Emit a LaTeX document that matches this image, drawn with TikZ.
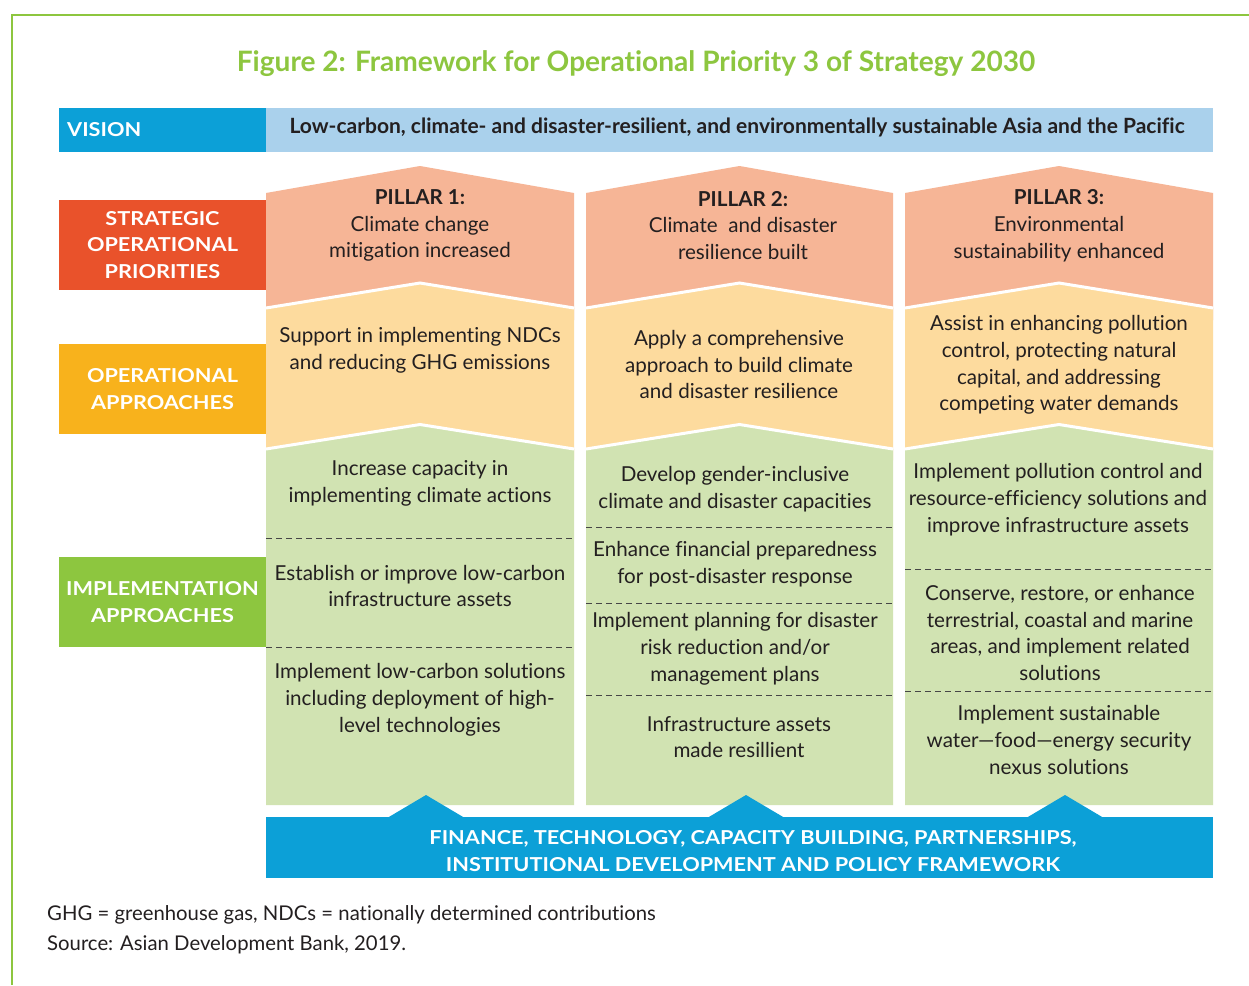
\documentclass[tikz,border=0pt]{standalone}
\usepackage{fontspec}
\setmainfont{Lato}[Ligatures=NoCommon]
\newfontfamily\labfont[FakeStretch=1.13,Ligatures=NoCommon]{Lato}
\definecolor{framegreen}{RGB}{141,198,63}
\definecolor{visdark}{RGB}{12,160,215}
\definecolor{vislight}{RGB}{170,209,236}
\definecolor{stratred}{RGB}{233,82,43}
\definecolor{opyellow}{RGB}{248,178,28}
\definecolor{impgreen}{RGB}{141,198,63}
\definecolor{pinkc}{RGB}{246,181,150}
\definecolor{yellowc}{RGB}{253,219,158}
\definecolor{greenc}{RGB}{209,227,178}
\definecolor{ink}{RGB}{35,31,32}
\definecolor{dashc}{RGB}{70,70,70}
\begin{document}
\begin{tikzpicture}[x=1pt,y=-1pt,
  body/.style={font=\fontsize{20.6}{26.8}\selectfont, text=ink, align=center, inner sep=0pt},
  lab/.style={font=\labfont\bfseries\fontsize{19.2}{26.5}\selectfont, text=white, align=center, inner sep=0pt},
  sep/.style={draw=dashc, line width=0.9pt, dash pattern=on 6pt off 4pt},
  wline/.style={draw=white, line width=3pt},
  note/.style={font=\fontsize{20.3}{24}\selectfont, text=ink, anchor=west, inner sep=0pt}
]
\useasboundingbox (0,0) rectangle (1249,985);
\fill[white] (0,0) rectangle (1249,985);
% frame
\draw[framegreen, line width=2.5pt] (12,985) -- (12,15) -- (1249,15);
% title
\node[font=\bfseries\fontsize{28.1}{30}\selectfont, text=framegreen, inner sep=0pt] (title) at (636,64) {Figure 2: Framework for Operational Priority 3 of Strategy 2030};
% vision row
\node[fill=visdark, minimum width=207pt, minimum height=44pt, inner sep=0pt, anchor=north west] (visbox) at (59,108) {};
\node[lab, anchor=west] (vislab) at (67,130) {VISION};
\node[fill=vislight, minimum width=947pt, minimum height=44pt, inner sep=0pt, anchor=north west] (visbar) at (266,108) {};
\node[font=\bfseries\fontsize{21}{24}\selectfont, text=ink, inner sep=0pt] (vistext) at (737,127.5) {Low-carbon, climate- and disaster-resilient, and environmentally sustainable Asia and the Pacific};
% left labels
\node[lab, fill=stratred, minimum width=207pt, minimum height=90pt] (sop) at (162.5,245) {STRATEGIC\\OPERATIONAL\\PRIORITIES};
\node[lab, fill=opyellow, minimum width=207pt, minimum height=90pt] (oap) at (162.5,389) {OPERATIONAL\\APPROACHES};
\node[lab, fill=impgreen, minimum width=207pt, minimum height=90pt] (iap) at (162.5,602) {IMPLEMENTATION\\APPROACHES};
% columns
\foreach \L/\C/\R in {266/420/574, 586/739.5/893, 905/1059/1213}{
  \fill[pinkc] (\L,193) -- (\C,166) -- (\R,193) -- (\R,320) -- (\L,320) -- cycle;
  \fill[yellowc] (\L,308) -- (\C,283) -- (\R,308) -- (\R,460) -- (\L,460) -- cycle;
  \draw[wline] (\L,308) -- (\C,283) -- (\R,308);
  \fill[greenc] (\L,449) -- (\C,424.5) -- (\R,449) -- (\R,805) -- (\L,805) -- cycle;
  \draw[wline] (\L,449) -- (\C,424.5) -- (\R,449);
}
% separators
\draw[sep] (266,538) -- (574,538);
\draw[sep] (266,647) -- (574,647);
\draw[sep] (586,527.5) -- (893,527.5);
\draw[sep] (586,603) -- (893,603);
\draw[sep] (586,695) -- (893,695);
\draw[sep] (905,569) -- (1213,569);
\draw[sep] (905,691.5) -- (1213,691.5);
% bottom bar
\fill[visdark] (266,817) rectangle (1213,878);
\foreach \C in {426,746,1065}{
  \fill[visdark] (\C-38,817.5) -- (\C,795) -- (\C+38,817.5) -- cycle;
}
\node[lab] (base) at (753,851) {FINANCE, TECHNOLOGY, CAPACITY BUILDING, PARTNERSHIPS,\\INSTITUTIONAL DEVELOPMENT AND POLICY FRAMEWORK};
% pillar texts
\node[body] (p1) at (420,225.5) {\textbf{PILLAR 1:}\\Climate change\\mitigation increased};
\node[body] (p2) at (743,225.5) {\textbf{PILLAR 2:}\\Climate\ \ and disaster\\resilience built};
\node[body] (p3) at (1059,225.5) {\textbf{PILLAR 3:}\\Environmental\\sustainability enhanced};
% operational
\node[body] (o1) at (420,350.5) {Support in implementing NDCs\\and reducing GHG emissions};
\node[body] (o2) at (739,364.5) {Apply a comprehensive\\approach to build climate\\and disaster resilience};
\node[body] (o3) at (1059,365) {Assist in enhancing pollution\\control, protecting natural\\capital, and addressing\\competing water demands};
% implementation
\node[body] (i1a) at (420,483.5) {Increase capacity in\\implementing climate actions};
\node[body] (i1b) at (420,586) {Establish or improve low-carbon\\infrastructure assets};
\node[body] (i1c) at (420,700) {Implement low-carbon solutions\\including deployment of high-\\level technologies};
\node[body] (i2a) at (735,489.5) {Develop gender-inclusive\\climate and disaster capacities};
\node[body] (i2b) at (735,564) {Enhance financial preparedness\\for post-disaster response};
\node[body] (i2c) at (735,648.5) {Implement planning for disaster\\risk reduction and/or\\management plans};
\node[body] (i2d) at (739,737) {Infrastructure assets\\made resillient};
\node[body] (i3a) at (1058,499.5) {Implement pollution control and\\resource-efficiency solutions and\\improve infrastructure assets};
\node[body] (i3b) at (1060,633) {Conserve, restore, or enhance\\terrestrial, coastal and marine\\areas, and implement related\\solutions};
\node[body] (i3c) at (1059,740) {Implement sustainable\\water—food—energy security\\nexus solutions};
% footnotes
\node[note] (fn1) at (47,915) {GHG = greenhouse gas, NDCs = nationally determined contributions};
\node[note] (fn2) at (47,945) {Source: Asian Development Bank, 2019.};
\end{tikzpicture}
\end{document}
